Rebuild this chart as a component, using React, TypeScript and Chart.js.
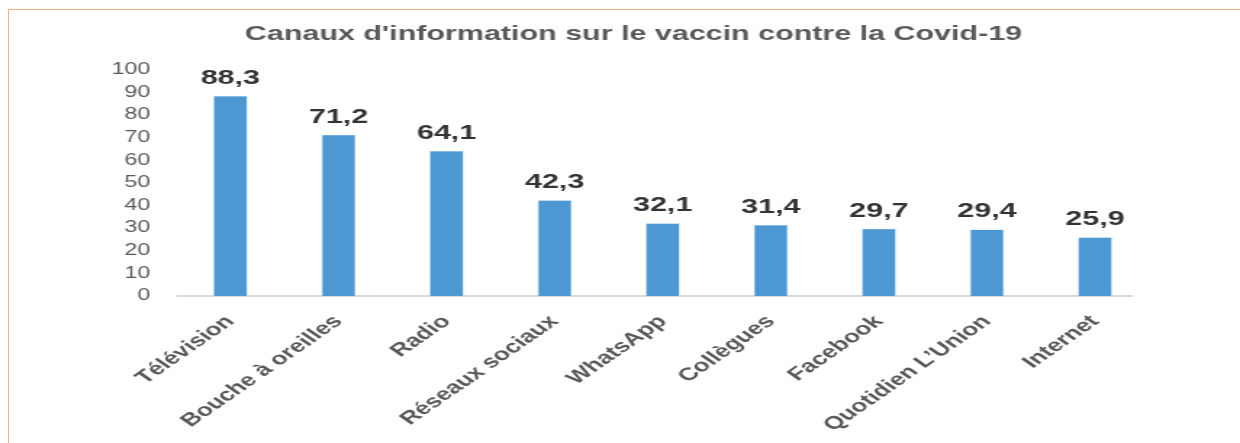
import React, { useEffect, useRef } from "react";
import { Chart, registerables } from "chart.js";

Chart.register(...registerables);

const title = "Canaux d'information sur le vaccin contre la Covid-19";
const categories = [
  "Télévision",
  "Bouche à oreilles",
  "Radio",
  "Réseaux sociaux",
  "WhatsApp",
  "Collègues",
  "Facebook",
  "Quotidien L’Union",
  "Internet",
];
const values = [88.3, 71.2, 64.1, 42.3, 32.1, 31.4, 29.7, 29.4, 25.9];
const yTicks = [0, 10, 20, 30, 40, 50, 60, 70, 80, 90, 100];

const FONT = "'Liberation Sans', Arial, Helvetica, sans-serif";
const INNER_W = 855;
const STRETCH = 1240 / INNER_W;

const fmt = (v: number) => v.toFixed(1).replace(".", ",");

const valueLabels = {
  id: "valueLabels",
  afterDatasetsDraw(chart: any) {
    const ctx = chart.ctx;
    const meta = chart.getDatasetMeta(0);
    ctx.save();
    ctx.font = `bold 21px ${FONT}`;
    ctx.fillStyle = "#333333";
    ctx.textAlign = "center";
    ctx.textBaseline = "alphabetic";
    meta.data.forEach((bar: any, i: number) => {
      ctx.fillText(fmt(values[i]), bar.x, bar.y - 12);
    });
    ctx.restore();
  },
};

const axisLine = {
  id: "axisLine",
  beforeDatasetsDraw(chart: any) {
    const ctx = chart.ctx;
    const a = chart.chartArea;
    ctx.save();
    ctx.strokeStyle = "#D9D9D9";
    ctx.lineWidth = 2;
    ctx.beginPath();
    ctx.moveTo(a.left, a.bottom);
    ctx.lineTo(a.right - 11, a.bottom);
    ctx.stroke();
    ctx.restore();
  },
};

const titlePlugin = {
  id: "customTitle",
  afterDraw(chart: any) {
    const ctx = chart.ctx;
    ctx.save();
    ctx.font = `bold 21px ${FONT}`;
    ctx.fillStyle = "#595959";
    ctx.textAlign = "center";
    ctx.textBaseline = "alphabetic";
    ctx.fillText(title, 436.8, 39.5);
    ctx.restore();
  },
};

export default function App() {
  const ref = useRef<HTMLCanvasElement | null>(null);

  useEffect(() => {
    if (!ref.current) return;
    const chart = new Chart(ref.current, {
      type: "bar",
      data: {
        labels: categories,
        datasets: [
          {
            data: values,
            backgroundColor: "#4D97D3",
            borderColor: "#9CC6EA",
            borderWidth: { left: 0.6, right: 0.6, top: 0.6, bottom: 0 },
            barPercentage: 0.314,
            categoryPercentage: 1,
          },
        ],
      },
      options: {
        animation: false,
        responsive: true,
        maintainAspectRatio: false,
        layout: { padding: { top: 69.5, right: 62.7, left: 0, bottom: 0 } },
        plugins: {
          legend: { display: false },
          title: { display: false },
          tooltip: { enabled: false },
        },
        scales: {
          x: {
            grid: { display: false, drawTicks: false },
            border: { display: false },
            ticks: {
              autoSkip: false,
              minRotation: 45,
              maxRotation: 45,
              padding: 15,
              color: "#595959",
              font: { family: FONT, size: 18, weight: "bold" },
            },
            afterFit(scale: any) {
              scale.height = 147;
            },
          },
          y: {
            min: 0,
            max: 100,
            grid: { display: false, drawTicks: false },
            border: { display: false },
            afterBuildTicks(scale: any) {
              scale.ticks = yTicks.map((v) => ({ value: v }));
            },
            ticks: {
              padding: 18,
              color: "#595959",
              font: { family: FONT, size: 16 },
            },
            afterFit(scale: any) {
              scale.width = 121.6;
            },
          },
        },
      },
      plugins: [axisLine, valueLabels, titlePlugin],
    });
    return () => chart.destroy();
  }, []);

  return (
    <div
      style={{
        position: "absolute",
        left: 0,
        top: 0,
        width: 1240,
        height: 443,
        overflow: "hidden",
        background: "#ffffff",
      }}
    >
      <div
        style={{
          position: "absolute",
          left: 8,
          top: 9,
          width: 1300,
          height: 500,
          borderTop: "1px solid #F4B183",
          borderLeft: "1px solid #F4B183",
        }}
      />
      <div
        style={{
          position: "absolute",
          left: 0,
          top: 0,
          width: INNER_W,
          height: 443,
          transform: `scaleX(${STRETCH})`,
          transformOrigin: "0 0",
        }}
      >
        <canvas ref={ref} />
      </div>
    </div>
  );
}
